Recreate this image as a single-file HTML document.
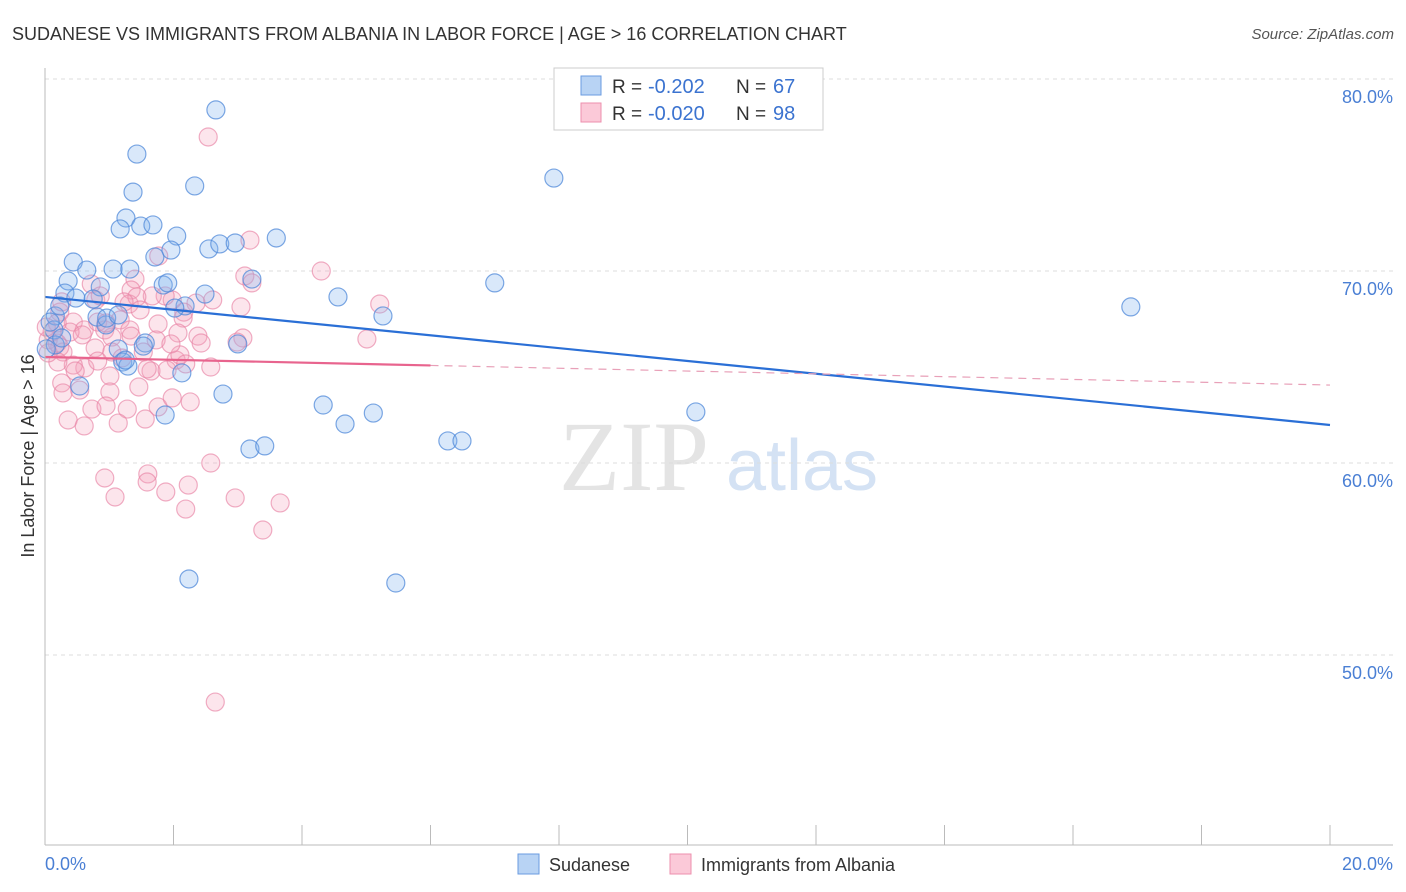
<!DOCTYPE html>
<html><head><meta charset="utf-8"><style>
body{margin:0;background:#fff;font-family:"Liberation Sans",sans-serif}
#wrap{position:relative;width:1406px;height:892px;overflow:hidden}
</style></head><body>
<div id="wrap">
<svg id="svg" width="1406" height="892" xmlns="http://www.w3.org/2000/svg">
<text x="12" y="40" font-size="18" fill="#333" font-family="Liberation Sans">SUDANESE VS IMMIGRANTS FROM ALBANIA IN LABOR FORCE | AGE &gt; 16 CORRELATION CHART</text>
<text x="1394" y="39" font-size="15" fill="#555" text-anchor="end" font-style="italic">Source: ZipAtlas.com</text>
<text x="634" y="490" font-size="100" fill="#e4e4e4" text-anchor="middle" font-family="Liberation Serif">ZIP</text>
<text x="802" y="490" font-size="72" fill="#d4e2f4" text-anchor="middle">atlas</text>
<text transform="translate(34,456) rotate(-90)" font-size="18" fill="#333" text-anchor="middle">In Labor Force | Age &gt; 16</text>
<g id="grid"></g><g id="pts"></g><g id="lines"></g>
<line x1="45" y1="68" x2="45" y2="845" stroke="#bbb"/>
<line x1="45" y1="845" x2="1393" y2="845" stroke="#bbb"/>
<text x="45" y="870" font-size="18" fill="#4a7fd4">0.0%</text>
<text x="1393" y="870" font-size="18" fill="#4a7fd4" text-anchor="end">20.0%</text>
<g>
<rect x="554" y="68" width="269" height="62" fill="#fff" stroke="#ccc"/>
<rect x="581" y="76" width="20" height="19" fill="#b8d3f4" stroke="#6a9be0"/>
<rect x="581" y="103" width="20" height="19" fill="#fbc9d8" stroke="#ec8fae"/>
<text x="612" y="93" font-size="19" fill="#333">R =</text>
<text x="648" y="93" font-size="20" fill="#3b73d0">-0.202</text>
<text x="736" y="93" font-size="19" fill="#333">N =</text>
<text x="773" y="93" font-size="20" fill="#3b73d0">67</text>
<text x="612" y="120" font-size="19" fill="#333">R =</text>
<text x="648" y="120" font-size="20" fill="#3b73d0">-0.020</text>
<text x="736" y="120" font-size="19" fill="#333">N =</text>
<text x="773" y="120" font-size="20" fill="#3b73d0">98</text>
</g>
<g>
<rect x="518" y="854" width="21" height="20" fill="#b8d3f4" stroke="#6a9be0"/>
<text x="549" y="871" font-size="18" fill="#333">Sudanese</text>
<rect x="670" y="854" width="21" height="20" fill="#fbc9d8" stroke="#ec8fae"/>
<text x="701" y="871" font-size="18" fill="#333">Immigrants from Albania</text>
</g>
</svg></div>
<script>
const yTicks=[50,60,70,80];
const xTickVals=[0,2,4,6,8,10,12,14,16,18,20];
const blueX=[2.66,1.43,1.37,2.33,1.26,1.17,1.49,1.68,2.05,1.96,1.71,2.55,2.72,2.96,3.60,0.44,0.36,0.65,1.06,1.32,0.86,0.31,0.48,0.75,1.84,1.91,2.18,2.49,3.22,4.56,5.26,7.00,7.92,16.90,0.16,0.14,0.16,0.81,0.95,0.96,1.56,1.14,1.21,1.29,2.13,3.00,2.77,0.54,1.87,4.33,4.67,5.11,3.19,3.42,6.27,6.49,10.13,2.24,5.46,0.08,0.26,0.23,2.02,1.14,1.25,0.02,1.53];
const blueY=[78.39,76.09,74.11,74.43,72.76,72.19,72.34,72.40,71.82,71.09,70.73,71.15,71.41,71.46,71.72,70.47,69.48,70.05,70.10,70.10,69.17,68.85,68.59,68.54,69.27,69.38,68.18,68.80,69.58,68.65,67.66,69.38,74.84,68.13,67.66,66.93,66.15,67.60,67.19,67.55,66.25,65.94,65.26,65.05,64.69,66.20,63.59,64.01,62.50,63.02,62.03,62.60,60.73,60.89,61.15,61.15,62.66,53.96,53.75,67.34,66.51,68.18,68.07,67.71,65.36,65.94,66.09];
const pinkX=[2.54,3.19,4.30,1.77,3.11,3.22,5.21,5.01,2.61,3.05,2.35,2.16,1.98,1.87,1.40,1.34,1.31,1.67,1.43,0.72,0.79,0.23,0.44,0.61,0.82,0.93,1.17,1.04,1.32,1.76,2.15,2.38,2.43,3.08,2.07,0.23,0.28,0.11,0.05,0.39,0.58,0.78,1.04,1.20,1.53,1.65,2.04,2.10,2.58,0.62,0.82,0.44,0.20,0.26,0.28,0.54,1.01,1.01,1.46,1.59,1.90,2.19,0.73,0.95,1.28,1.76,1.98,2.26,0.36,0.61,1.14,1.56,0.93,1.09,1.60,1.59,1.88,2.23,2.19,2.58,2.96,3.39,3.66,2.65,0.19,0.05,0.26,1.34,1.73,2.99,1.96,0.86,0.95,1.23,1.48,0.19,0.02,0.47];
const pinkY=[76.98,71.61,70.00,70.78,69.74,69.38,68.28,66.46,68.49,68.13,68.33,67.86,68.49,68.70,69.58,69.01,68.28,68.70,68.65,69.32,68.49,67.86,67.34,66.93,67.34,66.93,67.45,66.56,66.93,67.24,67.55,66.61,66.25,66.51,66.77,66.04,65.78,66.82,66.41,66.82,66.67,65.99,65.78,65.47,65.78,64.79,65.36,65.63,65.00,64.95,65.31,65.10,65.26,64.17,63.65,63.80,64.53,63.70,63.96,64.90,64.84,65.16,62.81,62.97,62.81,62.92,63.39,63.18,62.24,61.93,62.08,62.29,59.22,58.23,59.43,59.01,58.49,58.85,57.60,60.00,58.18,56.51,57.92,47.55,66.25,65.73,68.39,66.61,66.41,66.30,66.20,68.70,67.29,68.39,67.97,67.29,67.08,64.79];
const blueTrend=[68.65,61.98];
const pinkTrend=[65.52,64.06];
const pinkSolidEnd=6.0;

const NS="http://www.w3.org/2000/svg";
const sx=v=>45+v/20*1285;
const sy=v=>79+(80-v)*19.2;
function mk(tag,attrs,parent){const e=document.createElementNS(NS,tag);for(const k in attrs)e.setAttribute(k,attrs[k]);parent.appendChild(e);return e;}
const grid=document.getElementById('grid'),pts=document.getElementById('pts'),lines=document.getElementById('lines'),svg=document.getElementById('svg');
yTicks.forEach(t=>{
  const l=mk('line',{x1:45,x2:1393,y1:sy(t),y2:sy(t),stroke:'#ddd','stroke-dasharray':'4,4'},grid);
  
  
  const tx=mk('text',{x:1393,y:sy(t)+24,'font-size':18,fill:'#4a7fd4','text-anchor':'end'},svg);
  tx.textContent=t.toFixed(1)+'%';
  
  
});
xTickVals.forEach(t=>{
  const l=mk('line',{x1:sx(t),x2:sx(t),y1:825,y2:845,stroke:'#bbb'},grid);
  
  
});
function dots(X,Y,fill,stroke,name){
  X.forEach((x,i)=>{
    const c=mk('circle',{cx:sx(x),cy:sy(Y[i]),r:9,fill:fill,stroke:stroke,'stroke-width':1.2},pts);
    
    
  });
}
dots(pinkX,pinkY,'rgba(244,160,188,0.28)','rgba(232,130,165,0.65)','albania-point');
dots(blueX,blueY,'rgba(130,178,238,0.3)','rgba(80,138,218,0.75)','sudanese-point');
const bl=mk('line',{x1:sx(0),y1:sy(blueTrend[0]),x2:sx(20),y2:sy(blueTrend[1]),stroke:'#2a6fd6','stroke-width':2.2},lines);


const pAt=x=>pinkTrend[0]+(pinkTrend[1]-pinkTrend[0])*x/20;
const ps=mk('line',{x1:sx(0),y1:sy(pinkTrend[0]),x2:sx(pinkSolidEnd),y2:sy(pAt(pinkSolidEnd)),stroke:'#e8648e','stroke-width':2.2},lines);


const pd=mk('line',{x1:sx(pinkSolidEnd),y1:sy(pAt(pinkSolidEnd)),x2:sx(20),y2:sy(pinkTrend[1]),stroke:'#e8a0b8','stroke-width':1.2,'stroke-dasharray':'8,6'},lines);


</script>
</body></html>
